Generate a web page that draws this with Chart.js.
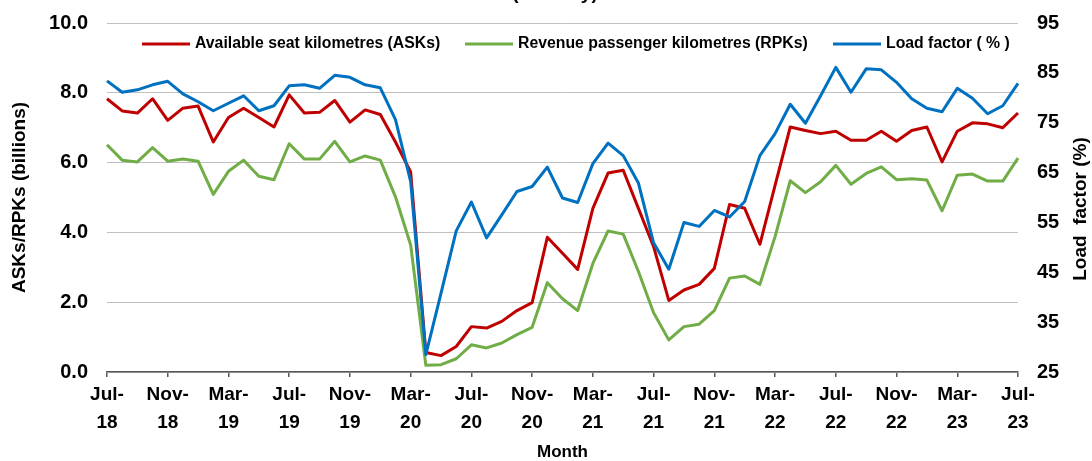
<!DOCTYPE html>
<html>
<head>
<meta charset="utf-8">
<script src="https://cdn.jsdelivr.net/npm/chart.js@4.4.0/dist/chart.umd.min.js"></script>
<style>
    html, body { margin: 0; padding: 0; background: #ffffff; }
    #wrap { width: 1092px; height: 461px; position: relative; }
</style>
</head>
<body>
<div id="wrap"><canvas id="trafficChart"></canvas></div>
<script>
var months = [
    "Jul-18", "Aug-18", "Sep-18", "Oct-18", "Nov-18", "Dec-18", "Jan-19", "Feb-19", "Mar-19", "Apr-19", "May-19", "Jun-19",
    "Jul-19", "Aug-19", "Sep-19", "Oct-19", "Nov-19", "Dec-19", "Jan-20", "Feb-20", "Mar-20", "Apr-20", "May-20", "Jun-20",
    "Jul-20", "Aug-20", "Sep-20", "Oct-20", "Nov-20", "Dec-20", "Jan-21", "Feb-21", "Mar-21", "Apr-21", "May-21", "Jun-21",
    "Jul-21", "Aug-21", "Sep-21", "Oct-21", "Nov-21", "Dec-21", "Jan-22", "Feb-22", "Mar-22", "Apr-22", "May-22", "Jun-22",
    "Jul-22", "Aug-22", "Sep-22", "Oct-22", "Nov-22", "Dec-22", "Jan-23", "Feb-23", "Mar-23", "Apr-23", "May-23", "Jun-23",
    "Jul-23"
];

// billions
var asks = [
    7.83, 7.48, 7.42, 7.83, 7.21, 7.56, 7.62, 6.59, 7.29, 7.56, 7.29, 7.02,
    7.94, 7.42, 7.44, 7.78, 7.16, 7.51, 7.38, 6.59, 5.73, 0.56, 0.47, 0.73,
    1.30, 1.26, 1.45, 1.76, 1.99, 3.86, 3.40, 2.94, 4.69, 5.70, 5.78, 4.69,
    3.59, 2.05, 2.35, 2.51, 2.97, 4.80, 4.69, 3.66, 5.35, 7.02, 6.92, 6.83,
    6.90, 6.64, 6.64, 6.90, 6.61, 6.92, 7.02, 6.02, 6.90, 7.14, 7.11, 7.00,
    7.42
];

var rpks = [
    6.51, 6.07, 6.02, 6.43, 6.04, 6.10, 6.04, 5.09, 5.75, 6.07, 5.61, 5.51,
    6.54, 6.10, 6.10, 6.61, 6.02, 6.19, 6.07, 5.02, 3.64, 0.19, 0.21, 0.38,
    0.78, 0.69, 0.83, 1.07, 1.28, 2.56, 2.10, 1.76, 3.11, 4.04, 3.95, 2.88,
    1.70, 0.92, 1.30, 1.37, 1.76, 2.69, 2.75, 2.51, 3.88, 5.48, 5.14, 5.45,
    5.92, 5.38, 5.69, 5.88, 5.51, 5.54, 5.50, 4.62, 5.64, 5.67, 5.47, 5.47,
    6.13
];

// percent
var loadFactor = [
    83.4, 81.1, 81.6, 82.6, 83.3, 80.8, 79.2, 77.4, 78.9, 80.4, 77.4, 78.4,
    82.4, 82.6, 81.9, 84.5, 84.1, 82.6, 82.0, 75.6, 63.2, 28.5, 40.8, 53.3,
    59.1, 51.9, 56.5, 61.2, 62.2, 66.1, 59.9, 59.0, 66.8, 70.9, 68.4, 62.9,
    50.9, 45.6, 55.0, 54.2, 57.4, 56.1, 59.2, 68.4, 72.8, 78.7, 74.9, 80.4,
    86.1, 81.1, 85.8, 85.6, 83.1, 79.8, 77.9, 77.2, 81.9, 79.9, 76.8, 78.4,
    82.9
];

var seriesNames = ["Available seat kilometres (ASKs)", "Revenue passenger kilometres (RPKs)", "Load factor ( % )"];
var leftAxisTitle = "ASKs/RPKs (billions)";
var rightAxisTitle = "Load  factor (%)";
var xAxisTitle = "Month";
var chartTitle = "(Monthly)";

var FONT = "'Liberation Sans', Arial, sans-serif";

// legend sits inside the plot, plus the right title reads bottom-up like Excel
var extraText = {
    id: "extraText",
    afterDraw: function(chart) {
        var ctx = chart.ctx;
        ctx.save();
        ctx.fillStyle = "#000000";

        // title, mostly cut off at the top edge
        ctx.font = "bold 19px " + FONT;
        ctx.textAlign = "center";
        ctx.textBaseline = "alphabetic";
        ctx.fillText(chartTitle, 555, -1);

        // right axis title
        ctx.translate(1081, 209);
        ctx.rotate(-Math.PI / 2);
        ctx.textBaseline = "middle";
        ctx.fillText(rightAxisTitle, 0, 0);
        ctx.restore();

        // legend
        var slots = [142, 465, 833];
        ctx.save();
        ctx.font = "bold 15.8px " + FONT;
        ctx.textAlign = "left";
        ctx.textBaseline = "middle";
        chart.data.datasets.forEach(function(ds, i) {
            var x = slots[i], y = 44;
            ctx.strokeStyle = ds.borderColor;
            ctx.lineWidth = 3;
            ctx.beginPath();
            ctx.moveTo(x, y);
            ctx.lineTo(x + 48, y);
            ctx.stroke();
            ctx.fillStyle = "#000000";
            ctx.fillText(ds.label, x + 53, y);
        });
        ctx.restore();
    }
};

// fixed box sizes so the plot area lands where the original one is
function fixWidth(w) {
    return function(s) {
        s.width = w;
        s.paddingTop = 0;
        s.paddingBottom = 0;
    };
}

document.addEventListener("DOMContentLoaded", function() {
    var ctx = document.getElementById("trafficChart").getContext("2d");
    new Chart(ctx, {
        type: "line",
        data: {
            labels: months,
            datasets: [{
                label: seriesNames[2],
                data: loadFactor,
                yAxisID: "yRight",
                borderColor: "#0070C0",
                order: 0
            }, {
                label: seriesNames[1],
                data: rpks,
                yAxisID: "y",
                borderColor: "#70AD47",
                order: 1
            }, {
                label: seriesNames[0],
                data: asks,
                yAxisID: "y",
                borderColor: "#C00000",
                order: 2
            }].reverse()
        },
        options: {
            responsive: true,
            maintainAspectRatio: false,
            animation: false,
            layout: { padding: { top: 23, right: 0, bottom: 0, left: 0 } },
            elements: {
                line: { borderWidth: 3, tension: 0, borderJoinStyle: "round", fill: false },
                point: { radius: 0, hoverRadius: 0 }
            },
            plugins: {
                legend: { display: false },
                tooltip: { enabled: false }
            },
            scales: {
                x: {
                    type: "category",
                    offset: false,
                    afterFit: function(s) { s.height = 89; },
                    afterBuildTicks: function(axis) {
                        axis.ticks = axis.ticks.filter(function(t) { return t.value % 4 === 0; });
                    },
                    grid: {
                        display: true,
                        drawOnChartArea: false,
                        drawTicks: true,
                        tickLength: 5,
                        color: "#595959",
                        lineWidth: 1.5
                    },
                    border: { display: true, color: "#595959", width: 1.5 },
                    ticks: {
                        autoSkip: false,
                        maxRotation: 0,
                        minRotation: 0,
                        padding: 4,
                        color: "#000000",
                        font: { family: FONT, size: 19, weight: "bold", lineHeight: 1.45 },
                        callback: function(value) {
                            var s = months[value];
                            return [s.slice(0, 4), s.slice(4)];
                        }
                    },
                    title: {
                        display: true,
                        text: xAxisTitle,
                        color: "#000000",
                        padding: 0,
                        font: { family: FONT, size: 17, weight: "bold", lineHeight: 1 }
                    }
                },
                y: {
                    position: "left",
                    min: 0,
                    max: 10,
                    afterFit: fixWidth(107),
                    grid: { color: "#c0c0c0", lineWidth: 1, drawTicks: false },
                    border: { display: false },
                    ticks: {
                        stepSize: 2,
                        padding: 19,
                        color: "#000000",
                        font: { family: FONT, size: 20, weight: "bold" },
                        callback: function(v) { return v.toFixed(1); }
                    },
                    title: {
                        display: true,
                        text: leftAxisTitle,
                        color: "#000000",
                        padding: { top: 10, bottom: 0 },
                        font: { family: FONT, size: 19, weight: "bold", lineHeight: 1 }
                    }
                },
                yRight: {
                    position: "right",
                    min: 25,
                    max: 95,
                    afterFit: fixWidth(74),
                    grid: { display: false, drawOnChartArea: false, drawTicks: false },
                    border: { display: false },
                    ticks: {
                        stepSize: 10,
                        padding: 19,
                        color: "#000000",
                        font: { family: FONT, size: 20, weight: "bold" }
                    }
                }
            }
        },
        plugins: [extraText]
    });
});
</script>
</body>
</html>
